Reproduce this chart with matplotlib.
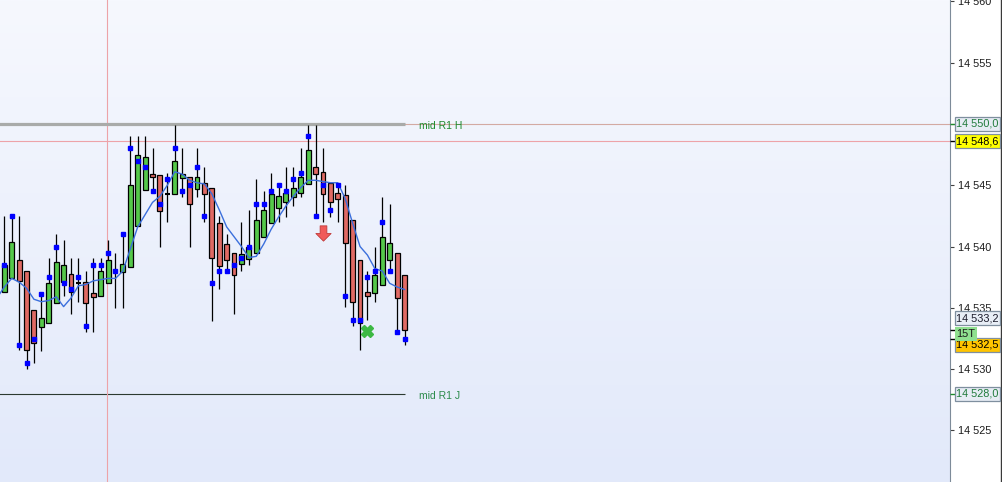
import matplotlib
matplotlib.use("Agg")
import matplotlib.pyplot as plt
import numpy as np
from matplotlib.patches import Rectangle
from matplotlib.path import Path
from matplotlib.ticker import FuncFormatter, MultipleLocator

plt.rcParams["font.family"] = ["Liberation Sans", "DejaVu Sans"]

# candle data (15 min bars)
opens = [14536.3, 14537.4, 14538.9, 14538.0, 14534.8, 14533.4, 14533.8, 14535.4, 14537.1, 14537.8,
         14537.0, 14537.1, 14536.2, 14536.0, 14537.0, 14538.0, 14537.9, 14538.3, 14541.7, 14544.6,
         14545.9, 14545.8, 14544.3, 14544.3, 14545.6, 14545.7, 14544.7, 14545.2, 14544.8, 14541.9,
         14540.2, 14539.5, 14538.6, 14539.0, 14539.5, 14540.8, 14541.9, 14543.1, 14543.6, 14544.0,
         14544.4, 14545.1, 14546.5, 14546.1, 14545.2, 14544.4, 14544.2, 14542.2, 14538.9, 14536.3,
         14536.2, 14536.9, 14538.9, 14539.5, 14537.7]
highs = [14542.5, 14542.5, 14542.5, 14538.0, 14534.8, 14536.1, 14539.1, 14541.0, 14540.5, 14539.1,
         14539.1, 14538.0, 14539.1, 14539.1, 14540.5, 14539.5, 14541.0, 14549.0, 14549.0, 14549.0,
         14548.0, 14545.8, 14546.0, 14549.9, 14548.0, 14545.7, 14548.0, 14546.5, 14544.8, 14542.5,
         14541.0, 14539.5, 14542.0, 14543.0, 14545.5, 14544.5, 14546.0, 14545.0, 14546.5, 14546.5,
         14548.0, 14549.9, 14549.9, 14548.0, 14545.2, 14545.0, 14545.0, 14542.2, 14538.9, 14538.0,
         14540.0, 14544.0, 14543.5, 14539.5, 14537.7]
lows = [14536.3, 14537.4, 14531.6, 14530.0, 14530.5, 14531.5, 14533.8, 14535.4, 14536.0, 14534.5,
        14535.5, 14533.0, 14533.0, 14536.0, 14537.0, 14535.0, 14535.0, 14538.3, 14541.7, 14544.6,
        14544.5, 14540.0, 14542.0, 14544.3, 14544.0, 14540.0, 14544.0, 14542.0, 14533.9, 14536.5,
        14538.0, 14534.5, 14538.0, 14538.5, 14539.5, 14540.8, 14541.9, 14542.0, 14542.4, 14543.3,
        14544.0, 14545.1, 14542.5, 14542.0, 14542.4, 14542.0, 14535.1, 14533.5, 14531.6, 14534.0,
        14535.5, 14536.9, 14538.0, 14533.0, 14532.0]
closes = [14538.5, 14540.4, 14537.2, 14531.6, 14532.1, 14534.2, 14537.0, 14538.7, 14538.5, 14536.3,
          14537.0, 14535.4, 14535.9, 14538.0, 14538.9, 14538.0, 14538.6, 14545.0, 14547.5, 14547.3,
          14545.7, 14542.9, 14544.3, 14547.0, 14545.9, 14543.5, 14545.7, 14544.3, 14539.1, 14538.4,
          14538.9, 14537.7, 14539.4, 14540.0, 14542.2, 14543.0, 14544.3, 14544.1, 14544.4, 14544.8,
          14545.7, 14547.9, 14545.9, 14544.3, 14543.6, 14543.9, 14540.3, 14535.5, 14533.8, 14536.0,
          14537.7, 14540.8, 14540.3, 14535.8, 14533.2]
# blue indicator points
dots = [14538.5, 14542.5, 14532.0, 14530.5, 14532.5, 14536.1, 14537.5, 14540.0, 14537.0, 14536.5,
        14537.5, 14533.5, 14538.5, 14538.5, 14539.5, 14538.0, 14541.0, 14548.0, 14547.0, 14546.5,
        14544.5, 14543.5, 14545.5, 14548.0, 14544.5, 14545.0, 14546.5, 14542.5, 14537.0, 14538.0,
        14538.0, 14538.5, 14539.1, 14540.0, 14543.5, 14543.5, 14544.5, 14545.0, 14544.5, 14545.5,
        14546.0, 14549.0, 14542.5, 14545.0, 14543.0, 14545.0, 14536.0, 14534.0, 14534.0, 14537.5,
        14538.0, 14542.0, 14538.0, 14533.0, 14532.5]
# moving average, first value belongs to the bar before the first visible one
ma = [14535.8,
      14536.7, 14537.4, 14537.1, 14536.6, 14535.7, 14535.5, 14535.6, 14535.9, 14535.1, 14535.8,
      14536.8, 14536.9, 14537.2, 14537.3, 14537.4, 14537.4, 14538.0, 14539.8, 14541.6, 14542.6,
      14543.6, 14544.1, 14545.0, 14546.1, 14545.9, 14545.4, 14545.2, 14545.1, 14544.3, 14543.0,
      14541.6, 14540.8, 14540.0, 14539.1, 14539.2, 14540.2, 14541.4, 14542.4, 14543.3, 14544.1,
      14544.8, 14545.4, 14545.4, 14545.3, 14545.2, 14545.2, 14543.9, 14541.9, 14540.0, 14539.3,
      14538.2, 14538.0, 14537.0, 14536.7, 14536.5]

level_h = 14550.0
level_j = 14528.0
level_pink = 14548.6
last_price = 14533.2
other_price = 14532.5
sell_bar, sell_price = 43, 14541.1
buy_bar, buy_price = 49, 14533.1
cursor_bar = 13.9

fig = plt.figure(figsize=(10.03, 4.82), dpi=100)
fig.patch.set_facecolor("white")
ax = fig.add_axes([0, 0, 950 / 1003, 1])

# background gradient
t = np.linspace(0, 1, 256)[:, None, None]
top = np.array([246, 248, 254]) / 255
bot = np.array([226, 233, 250]) / 255
ax.imshow(top + (bot - top) * t, extent=[0, 1, 0, 1], transform=ax.transAxes,
          aspect="auto", zorder=0)

x = np.arange(len(opens))
last = x[-1]

ax.hlines(level_h, -5, 300, color="#d3aaa2", lw=0.8, zorder=1)
ax.hlines(level_h, -5, last + 0.1, color="#a9aba9", lw=2.3, zorder=1.1)
ax.hlines(level_pink, -5, 300, color="#eda3a8", lw=0.8, zorder=1)
ax.hlines(level_j, -5, last + 0.1, color="#2c3a30", lw=0.8, zorder=1)
ax.axvline(cursor_bar, color="#eda3a8", lw=0.8, zorder=1)

w = 0.66
for i in x:
    o, h, l, c = opens[i], highs[i], lows[i], closes[i]
    ax.vlines(i, l, h, color="black", lw=0.9, zorder=3)
    if abs(c - o) < 0.05:
        ax.hlines(o, i - w / 2, i + w / 2, color="black", lw=1.5, zorder=4)
    else:
        col = "#55c84a" if c > o else "#e06a64"
        ax.add_patch(Rectangle((i - w / 2, min(o, c)), w, abs(c - o),
                               facecolor=col, edgecolor="black", lw=0.9, zorder=4))

ax.plot(np.arange(-1, len(opens)), ma, color="#3b6fdc", lw=1.0, zorder=5)
ax.plot(x, dots, ls="none", marker="s", ms=2.4, color="#0000ff", zorder=6)

arrow = Path([(-0.22, 0.5), (0.22, 0.5), (0.22, 0.0), (0.5, 0.0), (0.0, -0.5),
              (-0.5, 0.0), (-0.22, 0.0), (-0.22, 0.5)], closed=True)
ax.plot(sell_bar, sell_price, marker=arrow, ms=11, mfc="#f05a5a", mec="#c03a3a",
        mew=0.6, zorder=7)
ax.plot(buy_bar, buy_price, marker="X", ms=9, mfc="#3cb843", mec="#3cb843", zorder=7)

ax.annotate("mid R1 H", (last + 2, level_h), xytext=(0, -1.2), textcoords="offset points",
            va="center", ha="left", fontsize=7.5, color="#1d8a2c")
ax.annotate("mid R1 J", (last + 2, level_j), xytext=(0, -1.6), textcoords="offset points",
            va="center", ha="left", fontsize=7.5, color="#2a8a4a")

ax.set_xlim(-0.58, 127.6)
ax.set_ylim(14520.8, 14560.1)
for s in ["top", "left", "bottom"]:
    ax.spines[s].set_visible(False)
ax.spines["right"].set_color("#7d8b99")
ax.xaxis.set_visible(False)
ax.yaxis.tick_right()
ax.yaxis.set_major_locator(MultipleLocator(5))


def fmt(v, p):
    # the 14 550 label sits under the level box on the original
    if abs(v - level_h) < 0.01:
        return ""
    return f"{int(round(v)):,}".replace(",", " ")


ax.yaxis.set_major_formatter(FuncFormatter(fmt))
ax.tick_params(axis="y", direction="out", length=3, width=0.8, color="#404040",
               pad=2.5, labelsize=7.8, labelcolor="#1a1a1a")

# price labels on the scale
rax = fig.add_axes([950 / 1003, 0, 53 / 1003, 1])
rax.set_xlim(0, 53)
rax.set_ylim(ax.get_ylim())
rax.axis("off")
rax.axvline(51.2, color="#3a3a3a", lw=1.0)

hh = 7 / 12.267


def price_box(y, text, face, tcolor, shift=0.0, x0=5, wbox=45, edge="#7f8f9f"):
    rax.add_patch(Rectangle((x0, y + shift - hh), wbox, 2 * hh, facecolor=face,
                            edgecolor=edge, lw=0.9, zorder=3))
    rax.text(x0 + wbox / 2, y + shift, text, ha="center", va="center", fontsize=7.8,
             color=tcolor, zorder=4)


rax.hlines([level_h, level_j], 0, 5, color="#1d8a2c", lw=1)
rax.hlines([level_pink, last_price, other_price], 0, 5, color="black", lw=1)
price_box(level_h, "14 550,0", "#e6ecf4", "#1f7a3a")
price_box(level_pink, "14 548,6", "#ffff00", "black", shift=-0.03)
price_box(last_price, "14 533,2", "#e8eef6", "#1a1a2a", shift=0.95)
price_box(other_price, "14 532,5", "#ffc400", "black", shift=-0.5)
price_box(level_j, "14 528,0", "#e6ecf4", "#1f7a3a")
rax.add_patch(Rectangle((5, 14532.9 - hh), 22, 2 * hh, facecolor="#8fe08f",
                        edgecolor="none", zorder=5))
rax.text(16, 14532.9, "15T", ha="center", va="center", fontsize=7.8, color="#1a1a1a", zorder=6)

fig.savefig("out.png", dpi=100)
